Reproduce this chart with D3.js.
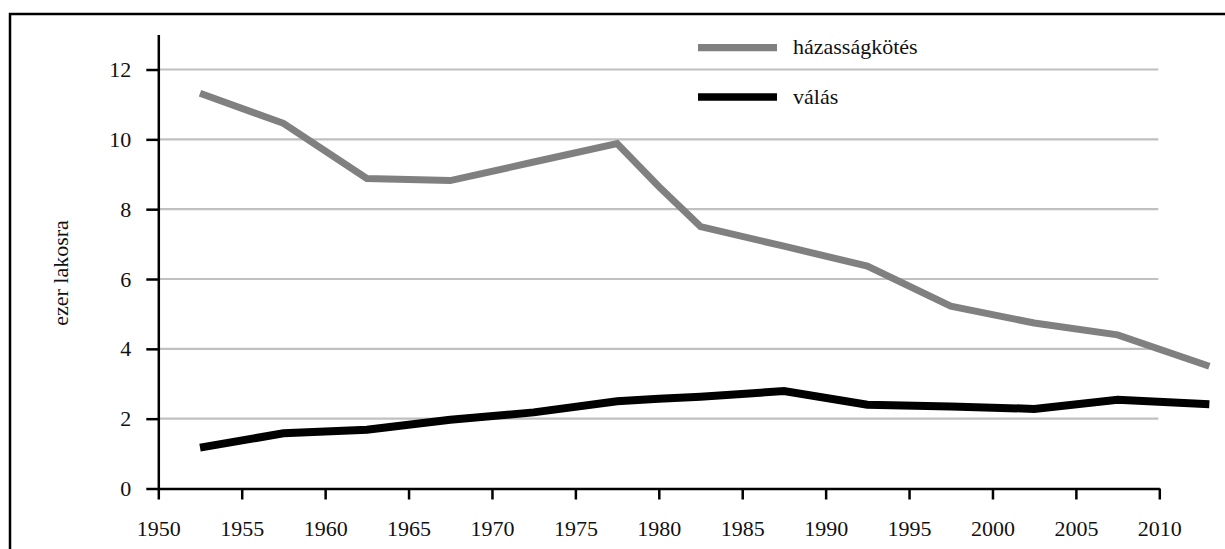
<!DOCTYPE html>
<html>
<head>
<meta charset="utf-8">
<script src="https://cdn.jsdelivr.net/npm/d3@7"></script>
<style>
  body { margin: 0; background: #fff; }
  svg { display: block; }
  .axis path, .axis line { stroke: #000; stroke-width: 2.5px; }
  .axis text { font-size: 22px; fill: #111; }
</style>
</head>
<body>
<div class="chartWrap"></div>
<script>
//Data (5 year averages, per thousand inhabitants)
const years = [1952.5, 1957.5, 1962.5, 1967.5, 1972.5, 1977.5, 1980, 1982.5, 1987.5, 1992.5, 1997.5, 2002.5, 2007.5, 2013];
const marriages = [11.32, 10.46, 8.88, 8.82, 9.35, 9.88, 8.65, 7.50, 6.94, 6.37, 5.22, 4.74, 4.40, 3.50];
const divorces = [1.17, 1.58, 1.68, 1.97, 2.18, 2.50, 2.57, 2.63, 2.79, 2.40, 2.35, 2.28, 2.54, 2.41];
const xTicks = [1950, 1955, 1960, 1965, 1970, 1975, 1980, 1985, 1990, 1995, 2000, 2005, 2010];
const yTicks = [0, 2, 4, 6, 8, 10, 12];
const seriesNames = ["házasságkötés", "válás"];
const yTitle = "ezer lakosra";

let width = 1225,
    height = 549,
    font = "'Liberation Serif', 'Times New Roman', serif";

let canvas = d3.select(".chartWrap").append("svg").attr("width", width).attr("height", height);

//Frame (only left and top edges fall inside the picture)
canvas.append("rect")
  .attr("x", 10).attr("y", 14)
  .attr("width", 1400).attr("height", 800)
  .attr("fill", "none").attr("stroke", "#000").attr("stroke-width", 2.5);

let xScale = d3.scaleLinear().domain([1950, 2010]).range([158.3, 1159.3]);
let yScale = d3.scaleLinear().domain([0, 13]).range([488.5, 34.6]);

//Gridlines
canvas.selectAll("line.grid")
  .data(yTicks.filter(function(d) { return d > 0; }))
  .enter()
  .append("line")
  .attr("class", "grid")
  .attr("x1", xScale(1950)).attr("x2", xScale(2010) - 1)
  .attr("y1", function(d) { return yScale(d); })
  .attr("y2", function(d) { return yScale(d); })
  .attr("stroke", "#c0c0c0")
  .attr("stroke-width", 2.2);

//Axes
let xAxis = d3.axisBottom(xScale).tickValues(xTicks).tickFormat(d3.format("d")).tickSize(11).tickSizeOuter(0).tickPadding(21);
let yAxis = d3.axisLeft(yScale).tickValues(yTicks).tickSize(12).tickSizeOuter(0).tickPadding(15);

canvas.append("g")
  .attr("class", "axis")
  .attr("transform", "translate(0," + yScale(0) + ")")
  .call(xAxis);
canvas.append("g")
  .attr("class", "axis")
  .attr("transform", "translate(" + xScale(1950) + ",0)")
  .call(yAxis);
canvas.selectAll(".axis text").style("font-family", font); //axis sets sans-serif by default

//Lines
let line = d3.line()
  .x(function(d) { return xScale(d[0]); })
  .y(function(d) { return yScale(d[1]); });

canvas.append("path")
  .datum(years.map(function(y, i) { return [y, marriages[i]]; }))
  .attr("d", line)
  .attr("fill", "none")
  .attr("stroke", "#808080")
  .attr("stroke-width", 7);

canvas.append("path")
  .datum(years.map(function(y, i) { return [y, divorces[i]]; }))
  .attr("d", line)
  .attr("fill", "none")
  .attr("stroke", "#000")
  .attr("stroke-width", 8);

//Y axis title
canvas.append("text").text(yTitle)
  .attr("transform", "translate(68,273) rotate(-90)")
  .attr("text-anchor", "middle")
  .attr("font-size", 22)
  .style("font-family", font)
  .attr("fill", "#111");

//Legend
let legendColors = ["#808080", "#000"];
let legendY = [47.7, 97];
seriesNames.forEach(function(name, i) {
  canvas.append("line")
    .attr("x1", 698).attr("x2", 777)
    .attr("y1", legendY[i]).attr("y2", legendY[i])
    .attr("stroke", legendColors[i])
    .attr("stroke-width", 7.3);
  canvas.append("text").text(name)
    .attr("x", 793).attr("y", legendY[i] + 6.5)
    .attr("font-size", 22)
    .style("font-family", font)
    .attr("fill", "#111");
});
</script>
</body>
</html>
